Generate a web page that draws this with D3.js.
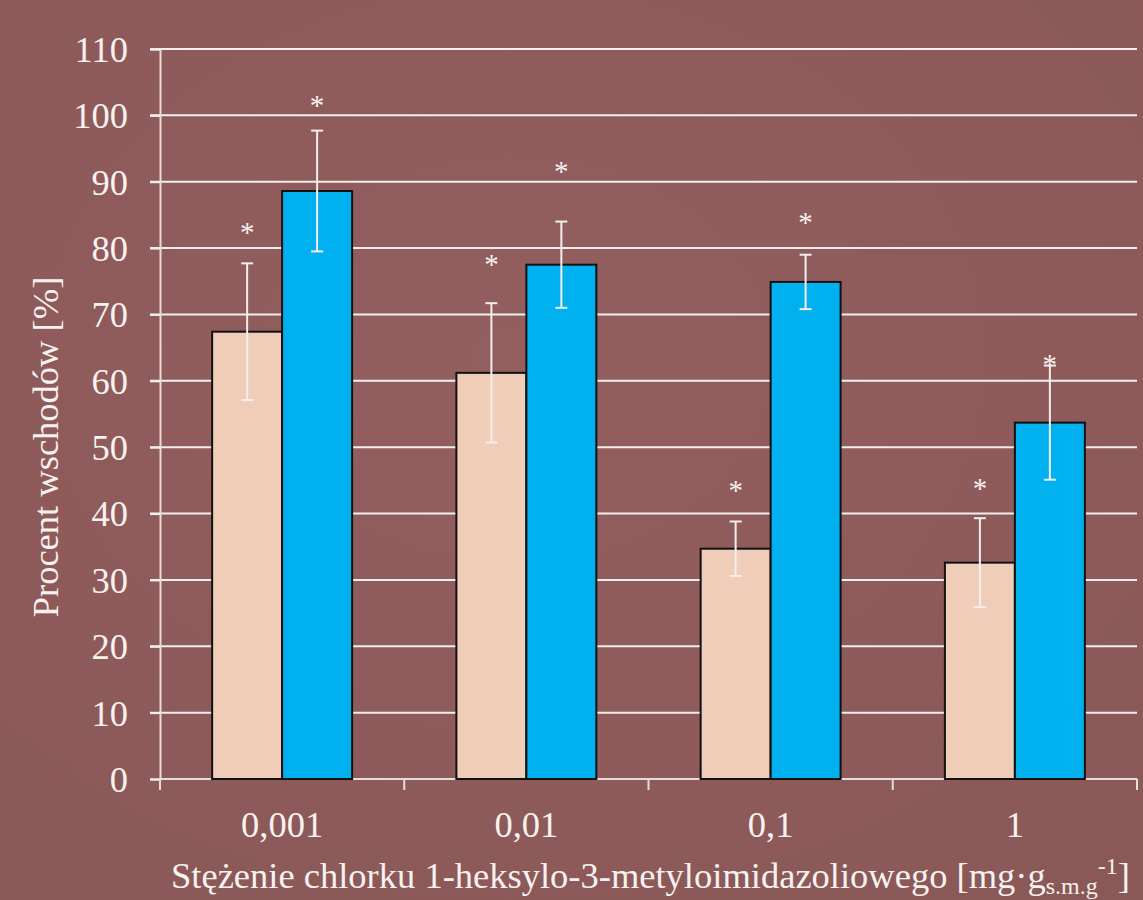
<!DOCTYPE html>
<html>
<head>
<meta charset="utf-8">
<script src="https://cdn.jsdelivr.net/npm/d3@7"></script>
<style>
  html, body { margin: 0; padding: 0; background: #8d5b5a; }
  svg { display: block; }
  text { font-family: "Liberation Serif", "Times New Roman", serif; fill: #f7f1f0; }
</style>
</head>
<body>
<svg id="chart" width="1143" height="900"></svg>
<script>
// Concentrations of 1-hexyl-3-methylimidazolium chloride
const categories = ["0,001", "0,01", "0,1", "1"];
const series = ["A", "B"];
// Emergence percentage, mean and error per concentration
const valuesA = [67.4, 61.2, 34.7, 32.6];
const errorsA = [10.3, 10.5, 4.1, 6.7];
const valuesB = [88.6, 77.5, 74.9, 53.7];
const errorsB = [9.1, 6.5, 4.1, 8.6];
// Level (in %) at which each significance asterisk sits
const starA = [82.7, 77.9, 43.9, 44.2];
const starB = [101.9, 91.9, 84.2, 62.8];
const yTicks = [0, 10, 20, 30, 40, 50, 60, 70, 80, 90, 100, 110];

const colors = { A: "#f0cdb8", B: "#00b0ef" };

const svg = d3.select("#chart");
const W = 1143, H = 900;

// subtle mottled background
const defs = svg.append("defs");
const rg = defs.append("radialGradient").attr("id", "bg").attr("cx", "45%").attr("cy", "40%").attr("r", "75%");
rg.append("stop").attr("offset", "0%").attr("stop-color", "#935f5e");
rg.append("stop").attr("offset", "100%").attr("stop-color", "#8a5857");
svg.append("rect").attr("width", W).attr("height", H).attr("fill", "url(#bg)");

const plot = { left: 160, right: 1137, top: 49, bottom: 779 };
const FS = 36.5;

const y = d3.scaleLinear().domain([0, 110]).range([plot.bottom, plot.top]);
const x0 = d3.scaleBand().domain(categories).range([plot.left, plot.right]).paddingInner(0).paddingOuter(0);
const bw = x0.bandwidth();
const x1 = d3.scaleBand().domain(series).range([bw * 0.2135, bw * 0.7865]).padding(0);

// horizontal gridlines
svg.append("g").selectAll("line").data(yTicks.filter(t => t > 0)).join("line")
  .attr("x1", plot.left - 10).attr("x2", plot.right)
  .attr("y1", d => y(d)).attr("y2", d => y(d))
  .attr("stroke", "#f4eeee").attr("stroke-width", 2);

// y axis
const yAxis = d3.axisLeft(y).tickValues(yTicks).tickSize(10).tickPadding(22).tickFormat(d3.format("d"));
const gy = svg.append("g").attr("transform", `translate(${plot.left},0)`).call(yAxis);
gy.select(".domain").attr("stroke", "#e6dcdc").attr("stroke-width", 2);
gy.selectAll(".tick line").attr("stroke", "#f4eeee").attr("stroke-width", 2);
gy.selectAll(".tick text").attr("font-size", FS).attr("fill", "#f7f1f0").attr("dy", "0.34em");

// x axis (ticks at the band boundaries)
const xLine = d3.scaleLinear().domain([0, categories.length]).range([plot.left, plot.right]);
const gx = svg.append("g").attr("transform", `translate(0,${plot.bottom})`);
gx.append("line").attr("x1", plot.left).attr("x2", plot.right).attr("stroke", "#e6dcdc").attr("stroke-width", 2);
gx.selectAll("line.tk").data(d3.range(categories.length + 1)).join("line").attr("class", "tk")
  .attr("x1", d => xLine(d)).attr("x2", d => xLine(d)).attr("y1", 0).attr("y2", 11)
  .attr("stroke", "#e6dcdc").attr("stroke-width", 2);
gx.selectAll("text").data(categories).join("text")
  .attr("x", d => x0(d) + bw / 2).attr("y", 58)
  .attr("text-anchor", "middle").attr("font-size", FS).text(d => d);

// bars
const rows = categories.map((c, i) => ({
  cat: c,
  items: [
    { s: "A", v: valuesA[i], e: errorsA[i], star: starA[i] },
    { s: "B", v: valuesB[i], e: errorsB[i], star: starB[i] }
  ]
}));

const groups = svg.append("g").selectAll("g").data(rows).join("g")
  .attr("transform", d => `translate(${x0(d.cat)},0)`);

groups.selectAll("rect").data(d => d.items).join("rect")
  .attr("x", d => x1(d.s)).attr("width", x1.bandwidth())
  .attr("y", d => y(d.v)).attr("height", d => y(0) - y(d.v))
  .attr("fill", d => colors[d.s]).attr("stroke", "#111").attr("stroke-width", 2);

// error bars
const eb = groups.selectAll("g.err").data(d => d.items).join("g").attr("class", "err")
  .attr("transform", d => `translate(${x1(d.s) + x1.bandwidth() / 2},0)`);
eb.append("line").attr("x1", 0).attr("x2", 0)
  .attr("y1", d => y(d.v + d.e)).attr("y2", d => y(d.v - d.e))
  .attr("stroke", "#f4eeee").attr("stroke-width", 2);
eb.append("line").attr("x1", -6).attr("x2", 6)
  .attr("y1", d => y(d.v + d.e)).attr("y2", d => y(d.v + d.e))
  .attr("stroke", "#f4eeee").attr("stroke-width", 2);
eb.append("line").attr("x1", -6).attr("x2", 6)
  .attr("y1", d => y(d.v - d.e)).attr("y2", d => y(d.v - d.e))
  .attr("stroke", "#f4eeee").attr("stroke-width", 2);

// significance asterisks
eb.append("text").attr("x", 0).attr("y", d => y(d.star)).attr("dy", "0.42em")
  .attr("text-anchor", "middle").attr("font-size", 29).text("*");

// axis titles
svg.append("text").attr("transform", `translate(58,447) rotate(-90)`)
  .attr("text-anchor", "middle").attr("font-size", FS).text("Procent wschodów [%]");

const xt = svg.append("text").attr("x", 171).attr("y", 888).attr("font-size", FS);
xt.append("tspan").text("Stężenie chlorku 1-heksylo-3-metyloimidazoliowego [mg·g");
xt.append("tspan").attr("font-size", 24).attr("dy", 6).text("s.m.g");
xt.append("tspan").attr("font-size", 24).attr("dy", -20).text("-1");
xt.append("tspan").attr("dy", 14).text("]");
</script>
</body>
</html>
